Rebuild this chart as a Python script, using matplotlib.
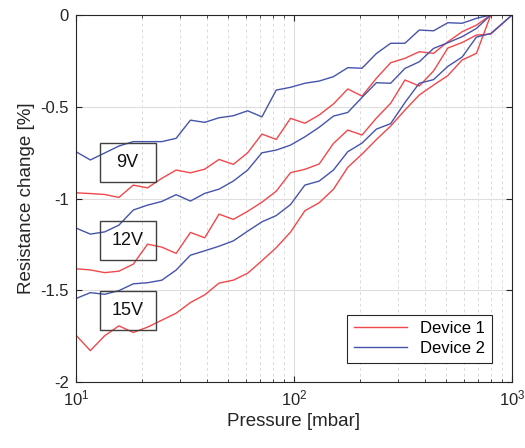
import math
import matplotlib
matplotlib.use("Agg")
import matplotlib.pyplot as plt
from matplotlib.patches import Rectangle
from matplotlib.ticker import FixedLocator, FuncFormatter

plt.rcParams['font.family'] = ['Liberation Sans', 'DejaVu Sans']
plt.rcParams['mathtext.default'] = 'regular'

# pressure steps [mbar]
pressure = [10.0, 11.63, 13.53, 15.73, 18.30, 21.28, 24.75, 28.79, 33.48, 38.94,
            45.29, 52.67, 61.26, 71.25, 82.87, 96.38, 112.1, 130.4, 151.6, 176.4,
            205.1, 238.6, 277.5, 322.7, 375.3, 436.5, 507.7, 590.5, 686.8, 798.8,
            1000.0]

# device 1 (red)
dev1_9v = [-0.969, -0.973, -0.978, -0.994, -0.927, -0.942, -0.890, -0.845, -0.860, -0.840,
           -0.787, -0.814, -0.751, -0.649, -0.678, -0.563, -0.590, -0.545, -0.485, -0.403,
           -0.442, -0.345, -0.260, -0.236, -0.200, -0.209, -0.146, -0.091, -0.055, 0.0, 0.0]
dev1_12v = [-1.383, -1.389, -1.404, -1.396, -1.358, -1.249, -1.265, -1.299, -1.185, -1.214,
            -1.085, -1.114, -1.070, -1.020, -0.960, -0.859, -0.841, -0.812, -0.700, -0.627,
            -0.654, -0.562, -0.481, -0.354, -0.387, -0.305, -0.180, -0.150, -0.109, -0.104, 0.0]
dev1_15v = [-1.745, -1.829, -1.748, -1.694, -1.730, -1.701, -1.663, -1.625, -1.567, -1.525,
            -1.461, -1.445, -1.407, -1.339, -1.268, -1.183, -1.067, -1.023, -0.950, -0.830,
            -0.758, -0.679, -0.605, -0.518, -0.436, -0.382, -0.330, -0.245, -0.209, 0.0, 0.0]

# device 2 (blue)
dev2_9v = [-0.745, -0.790, -0.752, -0.714, -0.690, -0.690, -0.690, -0.672, -0.573, -0.585,
           -0.560, -0.549, -0.522, -0.555, -0.409, -0.394, -0.372, -0.360, -0.336, -0.287,
           -0.290, -0.210, -0.154, -0.154, -0.082, -0.086, -0.042, -0.045, -0.018, 0.0, 0.0]
dev2_12v = [-1.161, -1.194, -1.182, -1.145, -1.063, -1.036, -1.016, -0.979, -1.014, -0.972,
            -0.949, -0.905, -0.845, -0.751, -0.736, -0.709, -0.664, -0.612, -0.551, -0.531,
            -0.449, -0.369, -0.372, -0.291, -0.255, -0.182, -0.151, -0.118, -0.073, 0.0, 0.0]
dev2_15v = [-1.545, -1.513, -1.522, -1.502, -1.465, -1.459, -1.445, -1.390, -1.309, -1.285,
            -1.260, -1.231, -1.178, -1.127, -1.093, -1.033, -0.927, -0.905, -0.845, -0.745,
            -0.698, -0.622, -0.592, -0.477, -0.372, -0.352, -0.280, -0.229, -0.120, -0.101, 0.0]

voltage_labels = ["9V", "12V", "15V"]
y_ticks = [-2, -1.5, -1, -0.5, 0]

red = '#f2474b'
blue = '#4554ab'
axis_col = '#262626'

fig = plt.figure(figsize=(5.25, 4.48), dpi=100)
ax = fig.add_axes([0.1448, 0.1473, 0.8305, 0.8192])

ax.plot(pressure, dev1_9v, color=red, lw=1.0, label='Device 1')
ax.plot(pressure, dev1_12v, color=red, lw=1.0)
ax.plot(pressure, dev1_15v, color=red, lw=1.0)
ax.plot(pressure, dev2_9v, color=blue, lw=1.0, label='Device 2')
ax.plot(pressure, dev2_12v, color=blue, lw=1.0)
ax.plot(pressure, dev2_15v, color=blue, lw=1.0)

ax.set_xscale('log')
ax.set_xlim(10, 1000)
ax.set_ylim(-2, 0)
ax.yaxis.set_major_locator(FixedLocator(y_ticks))
ax.yaxis.set_major_formatter(FuncFormatter(lambda v, p: '%g' % v))
ax.xaxis.set_major_formatter(FuncFormatter(lambda v, p: '$10^{%d}$' % round(math.log10(v))))

ax.grid(True, which='major', color='#dedede', lw=0.8, ls='-')
ax.grid(True, which='minor', axis='x', color='#dadada', lw=0.7, ls=(0, (3, 3)))
ax.set_axisbelow(True)

for s in ax.spines.values():
    s.set_color(axis_col)
    s.set_linewidth(0.8)
ax.tick_params(which='both', direction='in', top=True, right=True, colors=axis_col,
               labelcolor=axis_col, labelsize=12, pad=5)
ax.tick_params(which='major', length=4)
ax.tick_params(which='minor', length=2)

ax.set_xlabel('Pressure [mbar]', fontsize=13.5, color=axis_col, labelpad=3)
ax.set_ylabel('Resistance change [%]', fontsize=13.5, color=axis_col, labelpad=4)

# voltage boxes (axes fraction)
box_y = [0.545, 0.332, 0.141]
for lab, y0 in zip(voltage_labels, box_y):
    ax.add_patch(Rectangle((0.054, y0), 0.129, 0.106, transform=ax.transAxes,
                           fill=False, edgecolor='#404040', lw=1.0, zorder=5))
    ax.text(0.1185, y0 + 0.053, lab, transform=ax.transAxes, ha='center', va='center',
            fontsize=13, color='#111111', zorder=6)

leg = ax.legend(loc='lower right', bbox_to_anchor=(0.954, 0.052), borderaxespad=0,
                fontsize=12, frameon=True, fancybox=False, framealpha=1,
                edgecolor=axis_col, handlelength=3.2, borderpad=0.4, labelspacing=0.3)
leg.get_frame().set_linewidth(0.8)

fig.savefig('out.png', dpi=100)
